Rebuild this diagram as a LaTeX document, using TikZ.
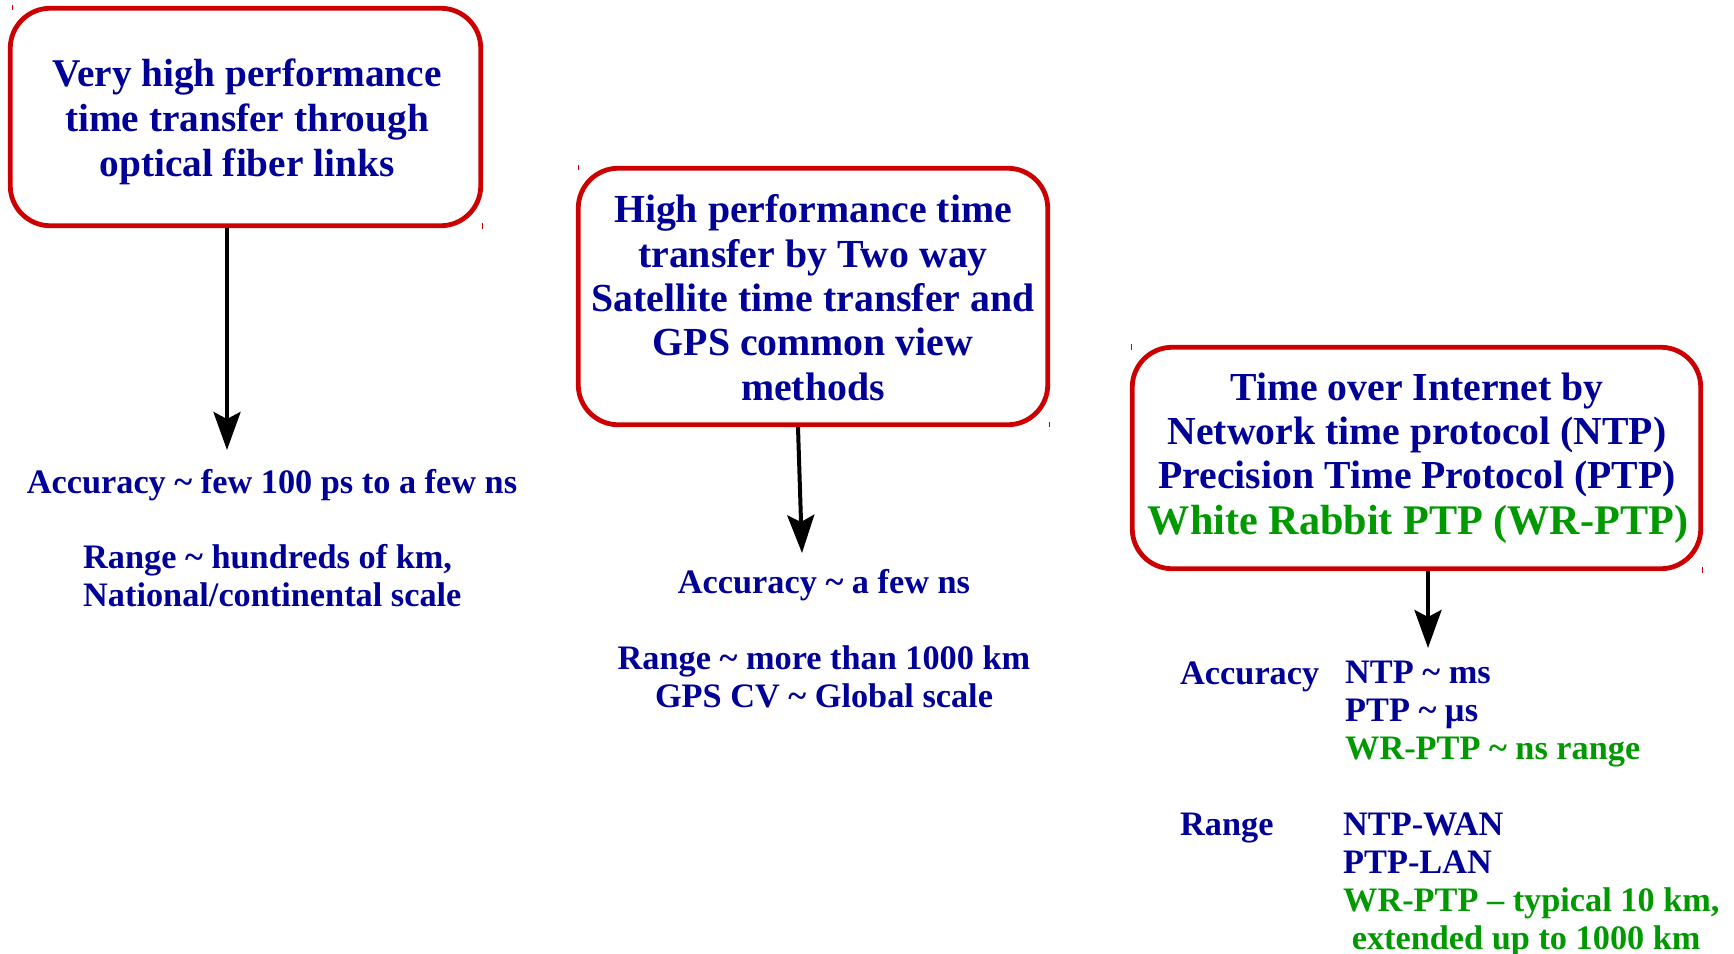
\documentclass[tikz,border=0pt]{standalone}
\usepackage{fontspec}
\setmainfont{Liberation Serif}
\usetikzlibrary{arrows.meta}
\definecolor{boxred}{RGB}{204,0,0}
\definecolor{txtblue}{RGB}{0,0,150}
\definecolor{txtgreen}{RGB}{0,153,0}

\begin{document}
\begin{tikzpicture}[x=1pt,y=-1pt,
  methodbox/.style={draw=boxred, line width=4.8pt, rounded corners=40pt, inner sep=0pt},
  boxtext/.style={text=txtblue, font=\fontsize{39.6}{44.5}\selectfont\bfseries, align=center, anchor=base, inner sep=0pt},
  infotext/.style={text=txtblue, font=\fontsize{34.3}{37.6}\selectfont\bfseries, inner sep=0pt, anchor=base},
  flowarrow/.style={draw=black, line width=4pt, -{Stealth[length=38pt,width=27pt,inset=7pt]}},
  tickmark/.style={draw=boxred, line width=1pt}
]
\useasboundingbox (0,0) rectangle (1734,953);

% method boxes
\node[methodbox, minimum width=470.5pt, minimum height=217.5pt] (fiber) at (245.5,117) {};
\node[methodbox, minimum width=469.5pt, minimum height=256.5pt] (sat) at (813,296.5) {};
\node[methodbox, minimum width=568.5pt, minimum height=221.5pt] (net) at (1416.5,458) {};

% small corner handles
\draw[tickmark] (12,5) -- (12,10);
\draw[tickmark] (482,223) -- (482,229);
\draw[tickmark] (578,165) -- (578,170);
\draw[tickmark] (1049,422) -- (1049,427);
\draw[tickmark] (1131,344) -- (1131,350);
\draw[tickmark] (1702,567) -- (1702,573);

% box titles (multi-line nodes are placed by the baseline of their last line)
\node[boxtext, font=\fontsize{39.3}{45}\selectfont\bfseries] (fiberText) at (247,176)
  {Very high performance\\time transfer through\\optical fiber links};
\node[boxtext, font=\fontsize{39.8}{44.3}\selectfont\bfseries] (satText) at (813,400)
  {High performance time\\transfer by Two way\\Satellite time transfer and\\GPS common view\\methods};
\node[boxtext, font=\fontsize{39.7}{44}\selectfont\bfseries] (netText) at (1417,488)
  {Time over Internet by\\Network time protocol (NTP)\\Precision Time Protocol (PTP)};
\node[boxtext, text=txtgreen, font=\fontsize{42.2}{47}\selectfont\bfseries] (wrText) at (1418,534)
  {White Rabbit PTP (WR-PTP)};

% arrow ends
\coordinate (fiberTip) at (227,450);
\coordinate (satTip) at (802,553);
\coordinate (netTip) at (1428,648);

\draw[flowarrow] (fiber.south -| fiberTip) -- (fiberTip);
\draw[flowarrow] ([xshift=-15pt]sat.south) -- (satTip);
\draw[flowarrow] (net.south -| netTip) -- (netTip);

% optical fiber figures
\node[infotext] (fiberAcc) at (272,493) {Accuracy \textasciitilde{} few 100 ps to a few ns};
\node[infotext, anchor=base west, align=left] (fiberRange) at (83,606)
  {Range \textasciitilde{} hundreds of km,\\National/continental scale};

% satellite figures
\node[infotext] (satAcc) at (824,593) {Accuracy \textasciitilde{} a few ns};
\node[infotext, align=center] (satRange) at (824,707)
  {Range \textasciitilde{} more than 1000 km\\GPS CV \textasciitilde{} Global scale};

% network protocol figures
\node[infotext, anchor=base west] (accLabel) at (1180,684) {Accuracy};
\node[infotext, anchor=base west, align=left] (accVal) at (1345,759)
  {NTP \textasciitilde{} ms\\PTP \textasciitilde{} µs\\\textcolor{txtgreen}{WR-PTP \textasciitilde{} ns range}};
\node[infotext, anchor=base west] (rangeLabel) at (1180,835) {Range};
\node[infotext, anchor=base west, align=left, font=\fontsize{34.3}{38}\selectfont\bfseries] (rangeVal) at (1343,949)
  {NTP-WAN\\PTP-LAN\\\textcolor{txtgreen}{WR-PTP – typical 10 km,}\\\textcolor{txtgreen}{\ extended up to 1000 km}};
\end{tikzpicture}
\end{document}
